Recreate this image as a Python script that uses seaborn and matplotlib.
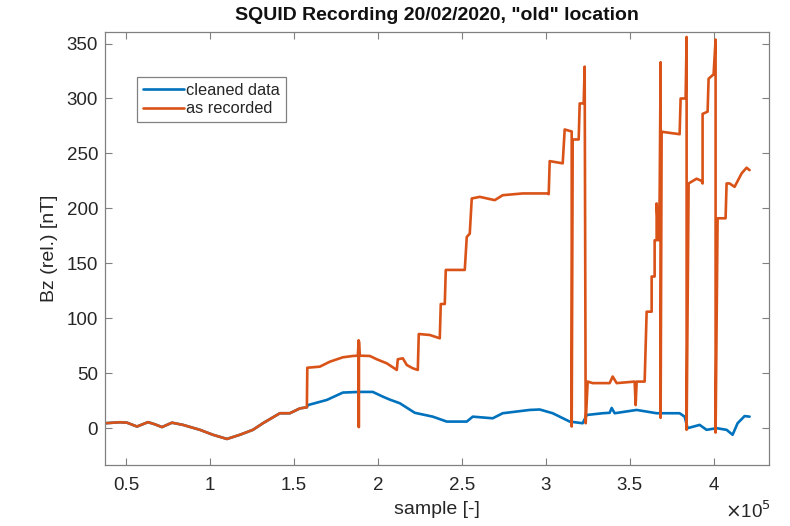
import numpy as np
import pandas as pd
import matplotlib
matplotlib.use("Agg")
import matplotlib.pyplot as plt
from matplotlib.ticker import FixedLocator, FuncFormatter
import seaborn as sns

# Cleaned SQUID trace (sample index, Bz in nT)
cleaned_x = [37500, 46400, 50600, 56550, 63100, 67260, 71430, 77380, 83930, 94050,
             101790, 110120, 117860, 125600, 131550, 141670, 147620, 153570, 157740,
             158330, 169640, 179170, 189290, 197020, 202980, 207140, 213100, 222020,
             232740, 241070, 252980, 256550, 268450, 274400, 290480, 296430, 304170,
             314290, 322020, 324400, 333930, 338100, 339290, 341070, 354170, 366070,
             379760, 382740, 384520, 391670, 395830, 401790, 407740, 411310, 414290,
             418450, 421430]
cleaned_y = [4.5, 5.4, 5.0, 1.5, 5.5, 3.5, 1.0, 5.0, 3.0, -1.5,
             -6.0, -9.8, -6.0, -1.5, 4.5, 13.6, 13.6, 18.0, 19.0,
             21.0, 25.7, 32.4, 33.0, 33.0, 28.7, 26.0, 22.7, 14.0,
             10.5, 6.0, 6.0, 10.5, 9.0, 13.6, 16.6, 17.0, 13.6,
             6.0, 4.5, 12.0, 13.6, 14.0, 18.4, 13.6, 16.6, 13.6,
             13.6, 10.5, 0.0, 3.0, -1.5, 0.0, -1.5, -6.0, 4.5,
             11.0, 10.5]

# Raw recording after the first jump at ~1.58e5 (before that it equals the cleaned trace)
split_sample = 157740
recorded_x = [158000, 165480, 171430, 179170, 185120, 188100,
              188600, 188600, 188750, 188750, 189100, 189290, 195240, 199400, 205360, 211310,
              211900, 214880, 217260, 220830, 223810, 224400, 230950, 236900,
              237500, 239880, 240480, 251790, 252980, 254760, 255950, 260710,
              269640, 274400, 286310, 300600, 301790, 302380, 310120, 311310,
              314290, 315480, 315480, 316070, 319640, 320240, 322620, 323210,
              323810, 325000, 327980, 338100, 339880, 342260, 352980, 353570,
              354170, 358930, 360120, 363100, 363100, 364880, 364880, 366070,
              366070, 367260, 367860, 368450, 368450, 369050, 369640, 379760,
              380360, 383330, 383930, 383930, 385120, 389880, 392860, 393450,
              393450, 396430, 397020, 400000, 401190, 401190, 402380, 407140,
              407740, 409520, 412500, 416670, 419640, 421430]
recorded_y = [55.0, 56.0, 60.5, 64.5, 65.7, 66.0,
              80.0, 1.0, 1.0, 79.0, 66.0, 66.0, 65.7, 62.7, 59.0, 53.0,
              62.7, 63.6, 57.5, 54.5, 53.0, 85.7, 84.8, 81.8,
              113.0, 113.0, 144.0, 144.0, 174.0, 177.0, 209.0, 210.5,
              207.5, 212.0, 213.6, 213.6, 213.0, 243.0, 241.0, 271.8,
              270.5, 270.0, 1.5, 262.7, 262.7, 295.5, 295.5, 329.0,
              4.5, 42.4, 41.0, 41.0, 47.0, 41.0, 42.4, 21.0,
              42.4, 42.4, 106.0, 106.0, 138.0, 138.0, 171.0, 171.0,
              204.5, 171.0, 210.0, 333.0, 9.4, 270.0, 269.6, 267.5,
              300.0, 300.0, 356.0, -1.5, 222.7, 227.0, 225.0, 222.7,
              286.0, 288.0, 318.0, 322.0, 353.6, -4.0, 191.0, 191.0,
              222.7, 222.7, 219.6, 231.8, 237.0, 234.8]

x_ticks = [50000, 100000, 150000, 200000, 250000, 300000, 350000, 400000]
y_ticks = [0, 50, 100, 150, 200, 250, 300, 350]

BLUE = "#0072BD"
ORANGE = "#D95319"
TXT = "#262626"
AX = "#808080"

sns.set_theme(style="white")
plt.rcParams["font.family"] = ["Liberation Sans", "DejaVu Sans"]

n_split = sum(1 for v in cleaned_x if v <= split_sample)
cleaned = pd.DataFrame({"sample": cleaned_x, "Bz": cleaned_y})
recorded = pd.DataFrame({
    "sample": cleaned_x[:n_split] + recorded_x,
    "Bz": cleaned_y[:n_split] + recorded_y,
})

fig = plt.figure(figsize=(7.9, 5.26), dpi=100)
ax = fig.add_axes([105 / 790, 61 / 526, 664 / 790, 433 / 526])

sns.lineplot(data=cleaned, x="sample", y="Bz", sort=False, estimator=None,
             color=BLUE, lw=1.9, ax=ax, label="cleaned data")
sns.lineplot(data=recorded, x="sample", y="Bz", sort=False, estimator=None,
             color=ORANGE, lw=1.9, ax=ax, label="as recorded")

ax.set_xlim(37500, 433000)
ax.set_ylim(-33.5, 360.5)
ax.xaxis.set_major_locator(FixedLocator(x_ticks))
ax.yaxis.set_major_locator(FixedLocator(y_ticks))
ax.xaxis.set_major_formatter(FuncFormatter(lambda v, p: f"{v / 1e5:g}"))

for s in ax.spines.values():
    s.set_color(AX)
    s.set_linewidth(0.9)
ax.tick_params(direction="in", length=5, width=0.8, color=AX, labelcolor=TXT,
               labelsize=13.5, top=True, right=True, bottom=True, left=True)
ax.tick_params(axis="x", pad=9)
ax.tick_params(axis="y", pad=5)

ax.set_xlabel("sample [-]", fontsize=14, color=TXT, labelpad=5)
ax.set_ylabel("Bz (rel.) [nT]", fontsize=14, color=TXT, labelpad=6)
ax.set_title('SQUID Recording 20/02/2020, "old" location', fontsize=14,
             fontweight="bold", color="#111111", pad=9)

fig.text(0.918, 0.008, r"$\times$10$^5$", fontsize=13.5, color=TXT,
         ha="left", va="bottom")

leg = ax.legend(loc="upper left", bbox_to_anchor=(0.048, 0.895), fontsize=11.8,
                frameon=True, fancybox=False, framealpha=1, edgecolor=AX,
                handlelength=2.5, handletextpad=0.15, borderpad=0.35,
                labelspacing=0.2, borderaxespad=0)
leg.get_frame().set_linewidth(0.9)
for t in leg.get_texts():
    t.set_color(TXT)

fig.savefig("out.png", dpi=100)
